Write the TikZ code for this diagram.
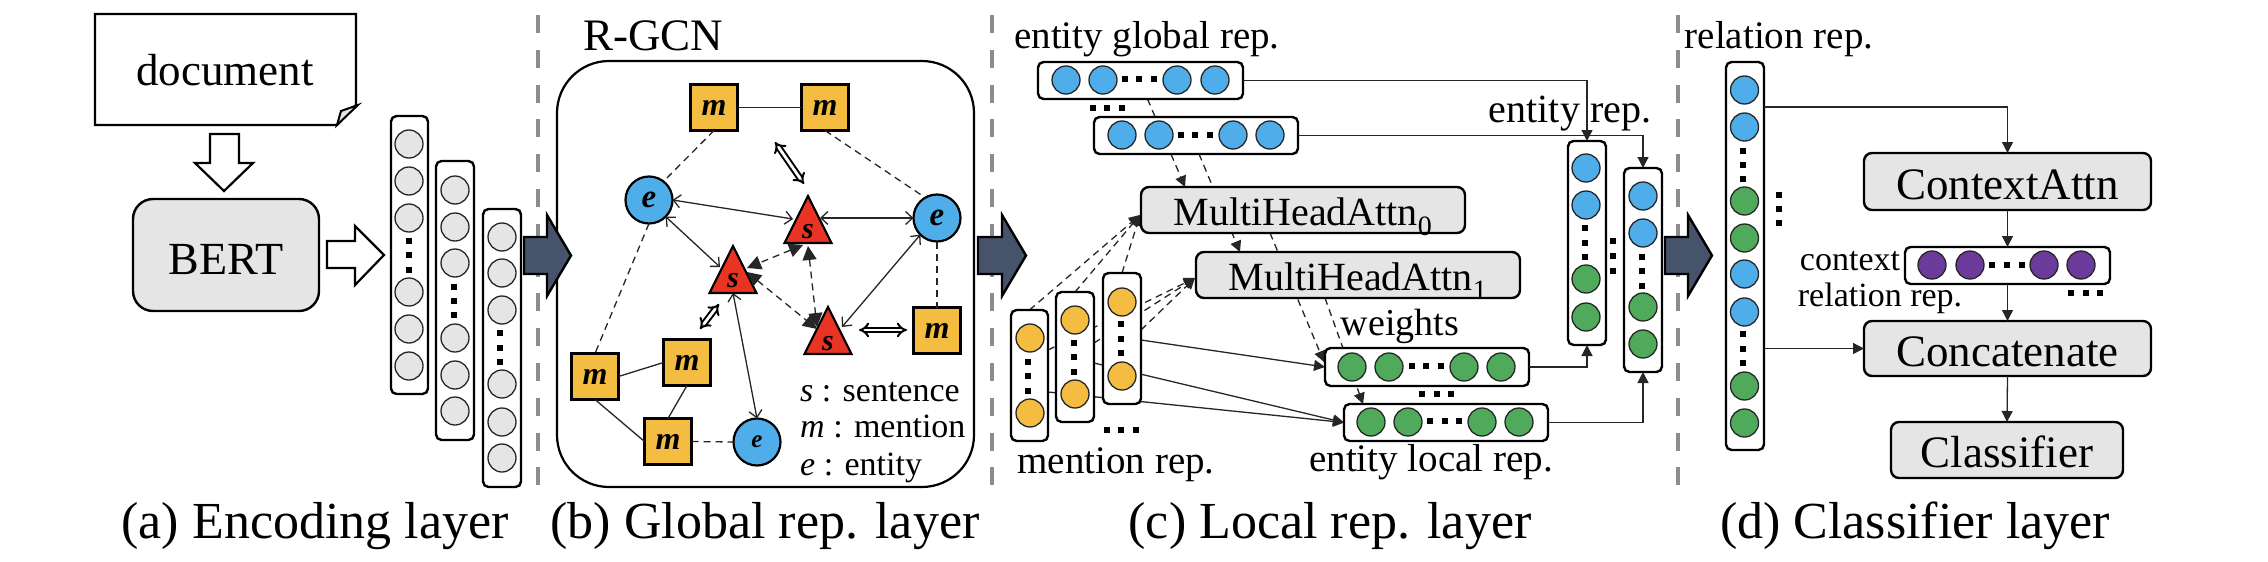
\documentclass[tikz,border=0pt]{standalone}
\usepackage{fontspec}
\setmainfont{Liberation Serif}
\usetikzlibrary{arrows.meta,shapes.geometric}
\pgfdeclarelayer{cbg}
\pgfsetlayers{cbg,main}
\definecolor{cgray}{HTML}{E6E5E6}
\definecolor{cblue}{HTML}{4FAEEA}
\definecolor{corange}{HTML}{F4BC41}
\definecolor{cred}{HTML}{E93323}
\definecolor{cgreen}{HTML}{4FAB5B}
\definecolor{cpurple}{HTML}{6B3A9B}
\definecolor{cdark}{HTML}{47536A}
\definecolor{csep}{HTML}{8C8C8C}
\newcommand{\myfs}[1]{\fontsize{#1}{#1}\selectfont}
\newcommand{\sqdot}[2]{\fill[black] (#1-2.6,#2-2.6) rectangle (#1+2.6,#2+2.6);}
\tikzset{
  x=1pt,y=-1pt,
  cc/.style={circle,draw=black!85,line width=1.3pt,minimum size=28pt,inner sep=0pt,outer sep=0pt},
  colbox/.style={draw=black,fill=white,line width=2.4pt,rounded corners=5.5pt,inner sep=0pt,outer sep=0pt},
  graybox/.style={draw=black,fill=cgray,line width=2.4pt,rounded corners=8pt,inner sep=0pt,outer sep=0pt,text depth=0pt},
  lbl/.style={anchor=base,inner sep=0pt,text=black},
  sqm/.style={draw=black,fill=corange,line width=2.2pt,minimum width=47pt,minimum height=46pt,inner sep=0pt,outer sep=0pt,font=\myfs{32}\bfseries\itshape},
  circe/.style={circle,draw=black,fill=cblue,line width=2.2pt,minimum size=47pt,inner sep=0pt,outer sep=0pt,font=\myfs{33}\bfseries\itshape},
  tri/.style={isosceles triangle,isosceles triangle stretches,shape border rotate=90,draw=black,fill=cred,line width=2.2pt,minimum width=47pt,minimum height=47pt,inner sep=0pt,outer sep=0pt,anchor=apex},
  sletter/.style={inner sep=0pt,font=\myfs{30}\bfseries\itshape},
  hollow/.style={draw=black,fill=white,line width=2.2pt,line join=miter},
  darrow/.style={draw=black,fill=cdark,line width=2.4pt,line join=miter},
  conn/.style={draw=black!85,line width=1.3pt},
  opn/.style={conn,{Straight Barb[length=7pt,width=13pt]}-{Straight Barb[length=7pt,width=13pt]}},
  dsh/.style={conn,dash pattern=on 7pt off 5pt},
  dhead/.style={dsh,-{Triangle[length=11pt,width=11pt]}},
  dboth/.style={dsh,{Triangle[length=14pt,width=14pt]}-{Triangle[length=14pt,width=14pt]}},
  head/.style={conn,-{Triangle[length=11pt,width=11pt]}},
  dbl/.style={draw=black,line width=2pt,double=white,double distance=2.8pt,{Implies}-{Implies}},
  sep/.style={draw=csep,line width=3.6pt,dash pattern=on 18pt off 16.8pt},
}
\begin{document}
\begin{tikzpicture}
\useasboundingbox (0,0) rectangle (2268,562);
% separators
\coordinate (s1a) at (538,15); \coordinate (s1b) at (538,496);
\coordinate (s2a) at (992,15); \coordinate (s2b) at (992,496);
\coordinate (s3a) at (1678,15); \coordinate (s3b) at (1678,496);
\draw[sep] (s1a) -- (s1b);
\draw[sep] (s2a) -- (s2b);
\draw[sep] (s3a) -- (s3b);
% (a)
\draw[line width=2.4pt,fill=white,line join=miter] (95,14) -- (356,14) -- (356,105) -- (337,125) -- (95,125) -- cycle;
\draw[line width=2pt,fill=cgray] (337,125) -- (341,111) -- (358,105) -- cycle;
\node[inner sep=0pt,font=\myfs{45}] (doc) at (225,70) {document};
\draw[hollow] (210,134) -- (239,134) -- (239,163) -- (253,163) -- (224,191) -- (195,163) -- (210,163) -- cycle;
\node[graybox,rounded corners=20pt,minimum width=186pt,minimum height=112pt,font=\myfs{46},text height=38pt] (bert) at (226,255) {BERT};
\draw[hollow] (327,241) -- (355,241) -- (355,226) -- (384,255) -- (355,285) -- (355,268) -- (327,268) -- cycle;
\node[colbox,minimum width=37pt,minimum height=278pt] (a1) at (409.5,255) {};
\node[colbox,minimum width=38pt,minimum height=279pt] (a2) at (455,300.5) {};
\node[colbox,minimum width=38pt,minimum height=278pt] (a3) at (502,348) {};
\foreach \n/\y in {1/144,2/181,3/218,4/292,5/329,6/366} {\node[cc,fill=cgray] (a1c\n) at (409,\y) {};}
\foreach \n/\y in {1/190,2/227,3/263,4/338,5/375,6/411} {\node[cc,fill=cgray] (a2c\n) at (455,\y) {};}
\foreach \n/\y in {1/237,2/273,3/310,4/384,5/422,6/458} {\node[cc,fill=cgray] (a3c\n) at (502,\y) {};}
\foreach \y in {241,255,270} {\sqdot{409}{\y}}
\foreach \y in {287,301,315} {\sqdot{454}{\y}}
\foreach \y in {333,348,362} {\sqdot{500}{\y}}
% (b)
\node[colbox,line width=2.2pt,rounded corners=52pt,minimum width=417pt,minimum height=426pt] (rgcn) at (765.5,274) {};
\node[lbl,font=\myfs{45}] (rgcnt) at (653,50) {R-GCN};
\node[sqm] (m1) at (714,107.5) {m};
\node[sqm] (m2) at (825,107.5) {m};
\node[sqm] (m3) at (937,330.5) {m};
\node[sqm] (m4) at (687,362.5) {m};
\node[sqm] (m5) at (595,376.5) {m};
\node[sqm] (m6) at (668,441.5) {m};
\node[circe] (e1) at (649,200) {e};
\node[circe] (e2) at (937,218) {e};
\node[circe,font=\myfs{25}\bfseries\itshape] (e3) at (757,442) {e};
\node[tri] (sa) at (808,196) {};
\node[tri] (sb) at (733,246) {};
\node[tri] (sc) at (828,307) {};
\node[sletter] (sat) at (808,232) {s};
\node[sletter] (sbt) at (733,281) {s};
\node[sletter] (sct) at (828,344) {s};
\draw[conn] (m1.east) -- (m2.west);
\draw[dsh] (m1.south) -- (e1.52);
\draw[dsh] (m2.south) -- (e2.120);
\draw[dsh] (e1.south) -- (m5.north);
\draw[dsh] (e2.south) -- (m3.north);
\draw[dsh] (m6.east) -- (e3.west);
\draw[conn] (m5.east) -- (m4.west);
\draw[conn] (m4.south) -- (m6.north);
\draw[conn] (m5.south) -- (m6.west);
\draw[opn] (e1.east) -- ([shift={(-15,23)}]sa.apex);
\draw[opn] (e2.west) -- ([shift={(12,22)}]sa.apex);
\draw[opn] (e1.-45) -- ([shift={(-13,21)}]sb.apex);
\draw[opn] (e2.-135) -- ([shift={(14,20)}]sc.apex);
\draw[opn] ([shift={(0,47)}]sb.apex) -- (e3.north);
\draw[dboth] ([shift={(-5,49)}]sa.apex) -- ([shift={(14,22)}]sb.apex);
\draw[dboth] ([shift={(0,50)}]sa.apex) -- ([shift={(-11,20)}]sc.apex);
\draw[dboth] ([shift={(14,26)}]sb.apex) -- ([shift={(-11,22)}]sc.apex);
\coordinate (d1a) at (775,142); \coordinate (d1b) at (804,184);
\coordinate (d2a) at (719,304); \coordinate (d2b) at (700,329);
\coordinate (d3a) at (859,330); \coordinate (d3b) at (907,330);
\draw[dbl] (d1a) -- (d1b);
\draw[dbl] (d2a) -- (d2b);
\draw[dbl] (d3a) -- (d3b);
\node[lbl,anchor=base west,font=\myfs{34}] (leg1) at (800,401) {\textit{s} : sentence};
\node[lbl,anchor=base west,font=\myfs{34}] (leg2) at (800,437) {\textit{m} : mention};
\node[lbl,anchor=base west,font=\myfs{34}] (leg3) at (800,475) {\textit{e} : entity};
% (c)
\node[lbl,font=\myfs{39}] (tg) at (1147,48) {entity global rep.};
\node[colbox,minimum width=205pt,minimum height=37pt] (g1) at (1140.5,80.5) {};
\node[colbox,minimum width=204pt,minimum height=37pt] (g2) at (1196,135.5) {};
\foreach \n/\x in {1/1066,2/1103,3/1177,4/1215} {\node[cc,fill=cblue] (g1c\n) at (\x,80) {};}
\foreach \n/\x in {1/1122,2/1159,3/1233,4/1270} {\node[cc,fill=cblue] (g2c\n) at (\x,135) {};}
\foreach \x in {1125,1139,1154} {\sqdot{\x}{79}}
\foreach \x in {1181,1195,1210} {\sqdot{\x}{135}}
\foreach \x in {1093,1107,1122} {\sqdot{\x}{108}}
\node[graybox,minimum width=324pt,minimum height=46pt,font=\myfs{40},text height=30pt] (ma) at (1303,210) {MultiHeadAttn\textsubscript{0}};
\node[graybox,minimum width=324pt,minimum height=46pt,font=\myfs{40},text height=30pt] (mb) at (1358,275) {MultiHeadAttn\textsubscript{1}};
\node[colbox,minimum width=37pt,minimum height=131pt] (c1) at (1029.5,375.5) {};
\node[colbox,minimum width=38pt,minimum height=130pt] (c2) at (1075,357) {};
\node[colbox,minimum width=38pt,minimum height=131pt] (c3) at (1122,338.5) {};
\foreach \n/\y in {1/338,2/413} {\node[cc,fill=corange] (c1c\n) at (1030,\y) {};}
\foreach \n/\y in {1/320,2/394} {\node[cc,fill=corange] (c2c\n) at (1075,\y) {};}
\foreach \n/\y in {1/302,2/376} {\node[cc,fill=corange] (c3c\n) at (1122,\y) {};}
\foreach \y in {362,376,391} {\sqdot{1028}{\y}}
\foreach \y in {343,357,372} {\sqdot{1074}{\y}}
\foreach \y in {324,339,353} {\sqdot{1121}{\y}}
\foreach \x in {1107,1121,1136} {\sqdot{\x}{430}}
\node[lbl,font=\myfs{39}] (tm) at (1116,473) {mention rep.};
\node[lbl,font=\myfs{38}] (tw) at (1400,335) {weights};
\node[colbox,minimum width=204pt,minimum height=38pt] (l1) at (1427,367) {};
\node[colbox,minimum width=204pt,minimum height=37pt] (l2) at (1446,422.5) {};
\foreach \n/\x in {1/1352,2/1389,3/1464,4/1501} {\node[cc,fill=cgreen] (l1c\n) at (\x,367) {};}
\foreach \n/\x in {1/1371,2/1408,3/1482,4/1519} {\node[cc,fill=cgreen] (l2c\n) at (\x,422) {};}
\foreach \x in {1412,1426,1441} {\sqdot{\x}{366}}
\foreach \x in {1430,1445,1459} {\sqdot{\x}{421}}
\foreach \x in {1422,1437,1451} {\sqdot{\x}{394}}
\node[lbl,font=\myfs{39}] (tl) at (1431,471) {entity local rep.};
\node[lbl,font=\myfs{40}] (te) at (1570,122) {entity rep.};
\node[colbox,minimum width=38pt,minimum height=204pt] (r1) at (1587,243) {};
\node[colbox,minimum width=38pt,minimum height=204pt] (r2) at (1643,270) {};
\foreach \n/\y/\c in {1/168/cblue,2/205/cblue,3/279/cgreen,4/317/cgreen} {\node[cc,fill=\c] (r1c\n) at (1586,\y) {};}
\foreach \n/\y/\c in {1/196/cblue,2/233/cblue,3/307/cgreen,4/344/cgreen} {\node[cc,fill=\c] (r2c\n) at (1643,\y) {};}
\foreach \y in {228,243,257} {\sqdot{1585}{\y}}
\foreach \y in {257,271,286} {\sqdot{1642}{\y}}
\foreach \y in {241,256,271} {\sqdot{1613}{\y}}
\begin{pgfonlayer}{cbg}
\draw[dhead] ([shift={(7,0)}]g1.south) -- ([shift={(-118,0)}]ma.north);
\draw[dhead] ([shift={(3,0)}]g2.south) -- ([shift={(-118,0)}]mb.north);
\draw[dhead] ([shift={(-33,0)}]ma.south) -- ([shift={(-1,-5)}]l1.west);
\draw[dhead] ([shift={(-33,0)}]mb.south) -- ([shift={(-83,0)}]l2.north);
\draw[dhead] (c1.north) -- ([shift={(-1,5)}]ma.west);
\draw[dhead] (c2.north) -- ([shift={(-1,5)}]ma.west);
\draw[dhead] (c3.north) -- ([shift={(-1,5)}]ma.west);
\draw[dhead] ([shift={(0,-25.5)}]c1.east) -- ([shift={(-1,3)}]mb.west);
\draw[dhead] ([shift={(0,-14)}]c2.east) -- ([shift={(-1,3)}]mb.west);
\draw[dhead] ([shift={(0,-8.5)}]c3.east) -- ([shift={(-1,3)}]mb.west);
\draw[head] ([shift={(0,1.5)}]c3.east) -- (l1.west);
\draw[head] ([shift={(0,6)}]c2.east) -- (l2.west);
\draw[head] ([shift={(0,16.5)}]c1.east) -- (l2.west);
\end{pgfonlayer}
\draw[head] (g1.east) -| (r1.north);
\draw[head] (g2.east) -| (r2.north);
\draw[head] (l1.east) -| (r1.south);
\draw[head] (l2.east) -| (r2.south);
% (d)
\node[lbl,font=\myfs{39}] (tr) at (1779,48) {relation rep.};
\node[colbox,minimum width=38pt,minimum height=388pt] (rel) at (1745,256) {};
\foreach \n/\y/\c in {1/90/cblue,2/127/cblue,3/201/cgreen,4/238/cgreen,5/274/cblue,6/312/cblue,7/386/cgreen,8/423/cgreen} {\node[cc,fill=\c] (relc\n) at (1744.5,\y) {};}
\foreach \y in {151,165,179,334,349,363} {\sqdot{1743}{\y}}
\foreach \y in {195,209,223} {\sqdot{1779}{\y}}
\node[graybox,minimum width=287pt,minimum height=57pt,font=\myfs{45},text height=36pt] (ca) at (2007.5,181.5) {ContextAttn};
\node[colbox,minimum width=205pt,minimum height=37pt] (pu) at (2007.5,265.5) {};
\foreach \n/\x in {1/1932,2/1970,3/2044,4/2081} {\node[cc,fill=cpurple] (puc\n) at (\x,265) {};}
\foreach \x in {1992,2007,2022} {\sqdot{\x}{265}}
\foreach \x in {2071,2086,2100} {\sqdot{\x}{293}}
\node[lbl,font=\myfs{34}] (tc1) at (1850,270) {context};
\node[lbl,font=\myfs{34}] (tc2) at (1880,306) {relation rep.};
\node[graybox,minimum width=287pt,minimum height=55pt,font=\myfs{45},text height=35pt] (conc) at (2007.5,348.5) {Concatenate};
\node[graybox,minimum width=232pt,minimum height=56pt,font=\myfs{45},text height=34pt] (clf) at (2007,450) {Classifier};
\draw[head] ([shift={(0,-149)}]rel.east) -| (ca.north);
\draw[head] (rel.east |- conc.west) -- (conc.west);
\draw[head] (ca.south) -- (pu.north);
\draw[head] (pu.south) -- (conc.north);
\draw[head] (conc.south) -- (clf.north);
% block arrows
\draw[darrow] (524,237) -- (547,237) -- (547,215) -- (571,255.5) -- (547,296) -- (547,274) -- (524,274) -- cycle;
\draw[darrow] (978,237) -- (1002,237) -- (1002,215) -- (1026,255.5) -- (1002,296) -- (1002,274) -- (978,274) -- cycle;
\draw[darrow] (1665,237) -- (1688,237) -- (1688,215) -- (1712,255.5) -- (1688,296) -- (1688,274) -- (1665,274) -- cycle;
% captions
\node[lbl,font=\myfs{52}] (cap1) at (315,538) {(a) Encoding layer};
\node[lbl,font=\myfs{52}] (cap2) at (765,538) {(b) Global rep. layer};
\node[lbl,font=\myfs{52}] (cap3) at (1330,538) {(c) Local rep. layer};
\node[lbl,font=\myfs{52}] (cap4) at (1915,538) {(d) Classifier layer};
\end{tikzpicture}
\end{document}
